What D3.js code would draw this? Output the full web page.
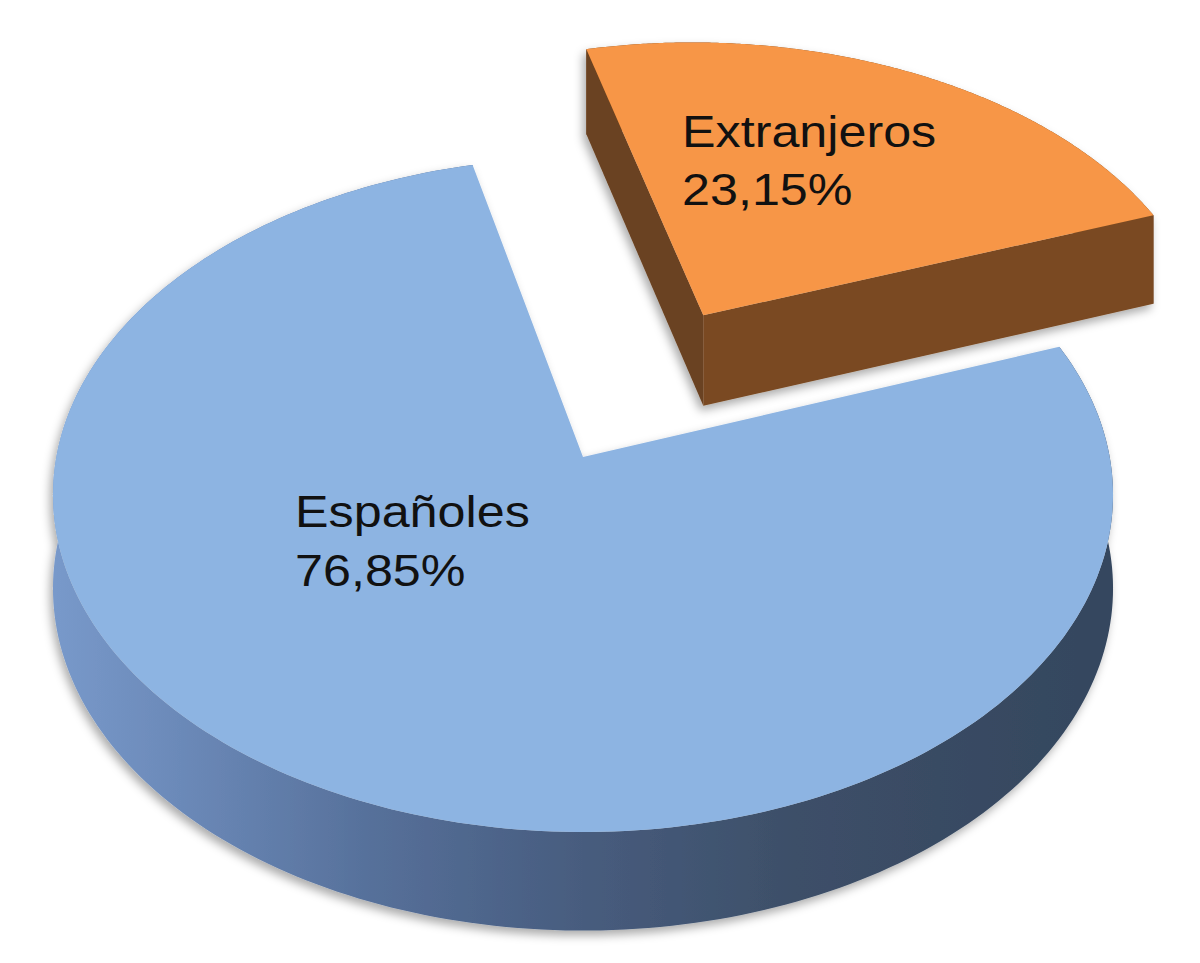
<!DOCTYPE html>
<html><head><meta charset="utf-8">
<script src="https://cdn.jsdelivr.net/npm/d3@7"></script>
<style>body{margin:0;background:#fff}</style>
</head><body>
<svg id="c" width="1200" height="963"></svg>
<script>
// ---- data ----
const categories = ["Españoles", "Extranjeros"];
const values = [76.85, 23.15];
const valueLabels = ["76,85%", "23,15%"];
const explode = [0, 0.507];

// ---- styles / layout ----
const topColors = ["#8DB4E2", "#F79646"];
const faceColors = [["#4a6186", "#4a6186"], ["#6b4220", "#7a4a22"]];
const wallColors = ["url(#blueSide)", "#74461f"];
const labelPos = [[295, 527], [682, 147]];

const cx = 583, cy = 457, R = 526.7, Ry = 333, k = 0.112, D = 93;
const deg = Math.PI / 180;
const startA = 69.9 * deg;

function proj(u, v, h) {
  const s = 1 / (1 + k * v);
  return [cx + R * u * s, cy - Ry * v * s + h * D * (1 - 0.06 * v)];
}

const svg = d3.select("#c");
const defs = svg.append("defs");
const g1 = defs.append("linearGradient").attr("id", "blueSide")
  .attr("gradientUnits", "userSpaceOnUse").attr("x1", 55).attr("x2", 1113).attr("y1", 0).attr("y2", 0);
[[0, "#7899ca"], [0.12, "#6b89b8"], [0.3, "#56709a"], [0.5, "#475c7e"], [0.7, "#3d4f68"], [1, "#34465e"]]
  .forEach(([o, c]) => g1.append("stop").attr("offset", o).attr("stop-color", c));
const f = defs.append("filter").attr("id", "sh").attr("x", "-10%").attr("y", "-10%").attr("width", "125%").attr("height", "125%");
f.append("feDropShadow").attr("dx", -3).attr("dy", 5).attr("stdDeviation", 5)
  .attr("flood-color", "#000").attr("flood-opacity", 0.33);

const pie = d3.pie().sort(null).value(d => d)
  .startAngle(startA).endAngle(startA + 2 * Math.PI);
const arcs = pie(values);
const line = d3.line();

arcs.forEach((a, i) => {
  const mid = (a.startAngle + a.endAngle) / 2;
  const ou = explode[i] * Math.sin(mid), ov = explode[i] * Math.cos(mid);
  const pt = (ang, r, h) => proj(ou + r * Math.sin(ang), ov + r * Math.cos(ang), h);
  const N = 240;
  const angs = d3.range(N + 1).map(j => a.startAngle + (a.endAngle - a.startAngle) * j / N);
  const gg = svg.append("g").attr("filter", "url(#sh)");

  // outer wall
  const wall = angs.map(t => pt(t, 1, 0)).concat(angs.slice().reverse().map(t => pt(t, 1, 1)));
  gg.append("path").attr("d", line(wall) + "Z").attr("fill", wallColors[i]);

  // radial faces (only if facing viewer)
  const f0 = [pt(a.startAngle, 1, 0), pt(a.startAngle, 0, 0), pt(a.startAngle, 0, 1), pt(a.startAngle, 1, 1)];
  const f1 = [pt(a.endAngle, 0, 0), pt(a.endAngle, 1, 0), pt(a.endAngle, 1, 1), pt(a.endAngle, 0, 1)];
  [f0, f1].forEach((q, qi) => {
    if (d3.polygonArea(q) < 0) {
      gg.append("path").attr("d", line(q) + "Z").attr("fill", faceColors[i][qi]);
    }
  });

  // top
  const top = [pt(0, 0, 0)].concat(angs.map(t => pt(t, 1, 0)));
  gg.append("path").attr("d", line(top) + "Z").attr("fill", topColors[i]);
});

// labels
categories.forEach((c, i) => {
  const t = svg.append("text")
    .attr("transform", `translate(${labelPos[i][0]},${labelPos[i][1]}) scale(1.13,1)`)
    .attr("font-family", "Liberation Sans, Arial, sans-serif")
    .attr("font-size", 44.5).attr("fill", "#111");
  t.append("tspan").attr("x", 0).attr("y", 0).text(c);
  t.append("tspan").attr("x", 0).attr("y", i === 0 ? 59 : 58).text(valueLabels[i]);
});
</script>
</body></html>
